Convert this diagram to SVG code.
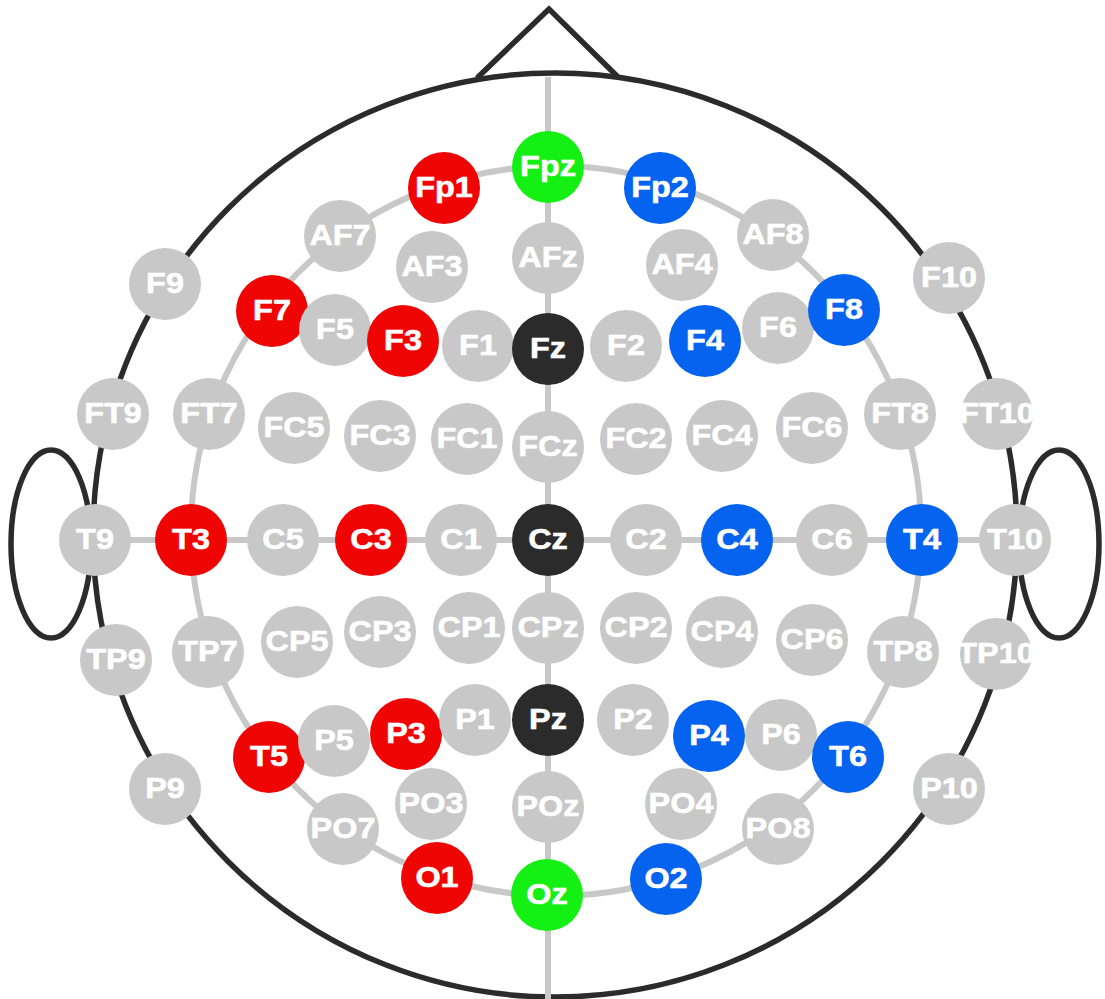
<svg xmlns="http://www.w3.org/2000/svg" width="1105" height="999" viewBox="0 0 1105 999">
<style>
.outline{fill:none;stroke:#2b2b2b;stroke-width:5.5}
.guide{fill:none;stroke:#c8c8c8;stroke-width:6}
.n circle{stroke:none}
.gy circle{fill:#c8c8c8}
.rd circle{fill:#f00505}
.bl circle{fill:#0563f0}
.gr circle{fill:#14f014}
.dk circle{fill:#2b2b2b}
.n text{font-family:"Liberation Sans",Arial,sans-serif;font-weight:bold;font-size:30px;fill:#ffffff;stroke:#ffffff;stroke-width:0.6;text-anchor:middle}
</style>
<rect width="1105" height="999" fill="#ffffff"/>
<g id="head">
<circle class="outline" cx="555" cy="535" r="462"/>
<polyline class="outline" points="477,78 549,9 619,78" stroke-linejoin="miter"/>
<ellipse class="outline" cx="51" cy="544" rx="40" ry="94"/>
<ellipse class="outline" cx="1059" cy="544" rx="40" ry="94"/>
</g>
<g id="connectors">
<circle class="guide" cx="556" cy="531" r="365"/>
<line class="guide" x1="548" y1="77" x2="548" y2="999"/>
<line class="guide" x1="95" y1="540" x2="1015" y2="540"/>
</g>
<g id="electrodes">
<g id="Fp1" class="n rd" transform="translate(444,188)"><circle r="36"/><text y="9" transform="scale(1.08 1)">Fp1</text></g>
<g id="Fpz" class="n gr" transform="translate(548,167)"><circle r="36"/><text y="9" transform="scale(1.08 1)">Fpz</text></g>
<g id="Fp2" class="n bl" transform="translate(660,188)"><circle r="36"/><text y="9" transform="scale(1.08 1)">Fp2</text></g>

<g id="AF7" class="n gy" transform="translate(340,236)"><circle r="36"/><text y="9" transform="scale(1.08 1)">AF7</text></g>
<g id="AF3" class="n gy" transform="translate(432,267)"><circle r="36"/><text y="9" transform="scale(1.08 1)">AF3</text></g>
<g id="AFz" class="n gy" transform="translate(548,258)"><circle r="36"/><text y="9" transform="scale(1.08 1)">AFz</text></g>
<g id="AF4" class="n gy" transform="translate(682,265)"><circle r="36"/><text y="9" transform="scale(1.08 1)">AF4</text></g>
<g id="AF8" class="n gy" transform="translate(773,235)"><circle r="36"/><text y="9" transform="scale(1.08 1)">AF8</text></g>

<g id="F9" class="n gy" transform="translate(165,284)"><circle r="36"/><text y="9" transform="scale(1.08 1)">F9</text></g>
<g id="F7" class="n rd" transform="translate(272,311)"><circle r="36"/><text y="9" transform="scale(1.08 1)">F7</text></g>
<g id="F5" class="n gy" transform="translate(335,330)"><circle r="36"/><text y="9" transform="scale(1.08 1)">F5</text></g>
<g id="F3" class="n rd" transform="translate(403,341)"><circle r="36"/><text y="9" transform="scale(1.08 1)">F3</text></g>
<g id="F1" class="n gy" transform="translate(478,346)"><circle r="36"/><text y="9" transform="scale(1.08 1)">F1</text></g>
<g id="Fz" class="n dk" transform="translate(548,349)"><circle r="36"/><text y="9" transform="scale(1.08 1)">Fz</text></g>
<g id="F2" class="n gy" transform="translate(626,346)"><circle r="36"/><text y="9" transform="scale(1.08 1)">F2</text></g>
<g id="F4" class="n bl" transform="translate(705,341)"><circle r="36"/><text y="9" transform="scale(1.08 1)">F4</text></g>
<g id="F6" class="n gy" transform="translate(778,328)"><circle r="36"/><text y="9" transform="scale(1.08 1)">F6</text></g>
<g id="F8" class="n bl" transform="translate(844,310)"><circle r="36"/><text y="9" transform="scale(1.08 1)">F8</text></g>
<g id="F10" class="n gy" transform="translate(949,278)"><circle r="36"/><text y="9" transform="scale(1.08 1)">F10</text></g>

<g id="FT9" class="n gy" transform="translate(113,414)"><circle r="36"/><text y="9" transform="scale(1.08 1)">FT9</text></g>
<g id="FT7" class="n gy" transform="translate(209,414)"><circle r="36"/><text y="9" transform="scale(1.08 1)">FT7</text></g>
<g id="FC5" class="n gy" transform="translate(294,428)"><circle r="36"/><text y="9" transform="scale(1.08 1)">FC5</text></g>
<g id="FC3" class="n gy" transform="translate(380,436)"><circle r="36"/><text y="9" transform="scale(1.08 1)">FC3</text></g>
<g id="FC1" class="n gy" transform="translate(467,439)"><circle r="36"/><text y="9" transform="scale(1.08 1)">FC1</text></g>
<g id="FCz" class="n gy" transform="translate(548,447)"><circle r="36"/><text y="9" transform="scale(1.08 1)">FCz</text></g>
<g id="FC2" class="n gy" transform="translate(636,439)"><circle r="36"/><text y="9" transform="scale(1.08 1)">FC2</text></g>
<g id="FC4" class="n gy" transform="translate(722,436)"><circle r="36"/><text y="9" transform="scale(1.08 1)">FC4</text></g>
<g id="FC6" class="n gy" transform="translate(812,428)"><circle r="36"/><text y="9" transform="scale(1.08 1)">FC6</text></g>
<g id="FT8" class="n gy" transform="translate(900,414)"><circle r="36"/><text y="9" transform="scale(1.08 1)">FT8</text></g>
<g id="FT10" class="n gy" transform="translate(997,414)"><circle r="36"/><text y="9" transform="scale(1.08 1)">FT10</text></g>

<g id="T9" class="n gy" transform="translate(95,540)"><circle r="36"/><text y="9" transform="scale(1.08 1)">T9</text></g>
<g id="T3" class="n rd" transform="translate(191,540)"><circle r="36"/><text y="9" transform="scale(1.08 1)">T3</text></g>
<g id="C5" class="n gy" transform="translate(283,540)"><circle r="36"/><text y="9" transform="scale(1.08 1)">C5</text></g>
<g id="C3" class="n rd" transform="translate(371,540)"><circle r="36"/><text y="9" transform="scale(1.08 1)">C3</text></g>
<g id="C1" class="n gy" transform="translate(461,540)"><circle r="36"/><text y="9" transform="scale(1.08 1)">C1</text></g>
<g id="Cz" class="n dk" transform="translate(548,540)"><circle r="36"/><text y="9" transform="scale(1.08 1)">Cz</text></g>
<g id="C2" class="n gy" transform="translate(646,540)"><circle r="36"/><text y="9" transform="scale(1.08 1)">C2</text></g>
<g id="C4" class="n bl" transform="translate(737,540)"><circle r="36"/><text y="9" transform="scale(1.08 1)">C4</text></g>
<g id="C6" class="n gy" transform="translate(832,540)"><circle r="36"/><text y="9" transform="scale(1.08 1)">C6</text></g>
<g id="T4" class="n bl" transform="translate(922,540)"><circle r="36"/><text y="9" transform="scale(1.08 1)">T4</text></g>
<g id="T10" class="n gy" transform="translate(1015,540)"><circle r="36"/><text y="9" transform="scale(1.08 1)">T10</text></g>

<g id="TP9" class="n gy" transform="translate(116,660)"><circle r="36"/><text y="9" transform="scale(1.08 1)">TP9</text></g>
<g id="TP7" class="n gy" transform="translate(208,652)"><circle r="36"/><text y="9" transform="scale(1.08 1)">TP7</text></g>
<g id="CP5" class="n gy" transform="translate(297,642)"><circle r="36"/><text y="9" transform="scale(1.08 1)">CP5</text></g>
<g id="CP3" class="n gy" transform="translate(380,632)"><circle r="36"/><text y="9" transform="scale(1.08 1)">CP3</text></g>
<g id="CP1" class="n gy" transform="translate(469,628)"><circle r="36"/><text y="9" transform="scale(1.08 1)">CP1</text></g>
<g id="CPz" class="n gy" transform="translate(548,628)"><circle r="36"/><text y="9" transform="scale(1.08 1)">CPz</text></g>
<g id="CP2" class="n gy" transform="translate(636,628)"><circle r="36"/><text y="9" transform="scale(1.08 1)">CP2</text></g>
<g id="CP4" class="n gy" transform="translate(722,632)"><circle r="36"/><text y="9" transform="scale(1.08 1)">CP4</text></g>
<g id="CP6" class="n gy" transform="translate(812,640)"><circle r="36"/><text y="9" transform="scale(1.08 1)">CP6</text></g>
<g id="TP8" class="n gy" transform="translate(903,652)"><circle r="36"/><text y="9" transform="scale(1.08 1)">TP8</text></g>
<g id="TP10" class="n gy" transform="translate(996,654)"><circle r="36"/><text y="9" transform="scale(1.08 1)">TP10</text></g>

<g id="P9" class="n gy" transform="translate(165,789)"><circle r="36"/><text y="9" transform="scale(1.08 1)">P9</text></g>
<g id="T5" class="n rd" transform="translate(269,757)"><circle r="36"/><text y="9" transform="scale(1.08 1)">T5</text></g>
<g id="P5" class="n gy" transform="translate(334,741)"><circle r="36"/><text y="9" transform="scale(1.08 1)">P5</text></g>
<g id="P3" class="n rd" transform="translate(406,734)"><circle r="36"/><text y="9" transform="scale(1.08 1)">P3</text></g>
<g id="P1" class="n gy" transform="translate(475,720)"><circle r="36"/><text y="9" transform="scale(1.08 1)">P1</text></g>
<g id="Pz" class="n dk" transform="translate(548,720)"><circle r="36"/><text y="9" transform="scale(1.08 1)">Pz</text></g>
<g id="P2" class="n gy" transform="translate(633,720)"><circle r="36"/><text y="9" transform="scale(1.08 1)">P2</text></g>
<g id="P4" class="n bl" transform="translate(709,736)"><circle r="36"/><text y="9" transform="scale(1.08 1)">P4</text></g>
<g id="P6" class="n gy" transform="translate(781,735)"><circle r="36"/><text y="9" transform="scale(1.08 1)">P6</text></g>
<g id="T6" class="n bl" transform="translate(848,757)"><circle r="36"/><text y="9" transform="scale(1.08 1)">T6</text></g>
<g id="P10" class="n gy" transform="translate(949,789)"><circle r="36"/><text y="9" transform="scale(1.08 1)">P10</text></g>

<g id="PO7" class="n gy" transform="translate(343,829)"><circle r="36"/><text y="9" transform="scale(1.08 1)">PO7</text></g>
<g id="PO3" class="n gy" transform="translate(431,804)"><circle r="36"/><text y="9" transform="scale(1.08 1)">PO3</text></g>
<g id="POz" class="n gy" transform="translate(548,807)"><circle r="36"/><text y="9" transform="scale(1.08 1)">POz</text></g>
<g id="PO4" class="n gy" transform="translate(681,804)"><circle r="36"/><text y="9" transform="scale(1.08 1)">PO4</text></g>
<g id="PO8" class="n gy" transform="translate(778,829)"><circle r="36"/><text y="9" transform="scale(1.08 1)">PO8</text></g>

<g id="O1" class="n rd" transform="translate(437,878)"><circle r="36"/><text y="9" transform="scale(1.08 1)">O1</text></g>
<g id="Oz" class="n gr" transform="translate(547,895)"><circle r="36"/><text y="9" transform="scale(1.08 1)">Oz</text></g>
<g id="O2" class="n bl" transform="translate(666,879)"><circle r="36"/><text y="9" transform="scale(1.08 1)">O2</text></g>
</g>
</svg>
